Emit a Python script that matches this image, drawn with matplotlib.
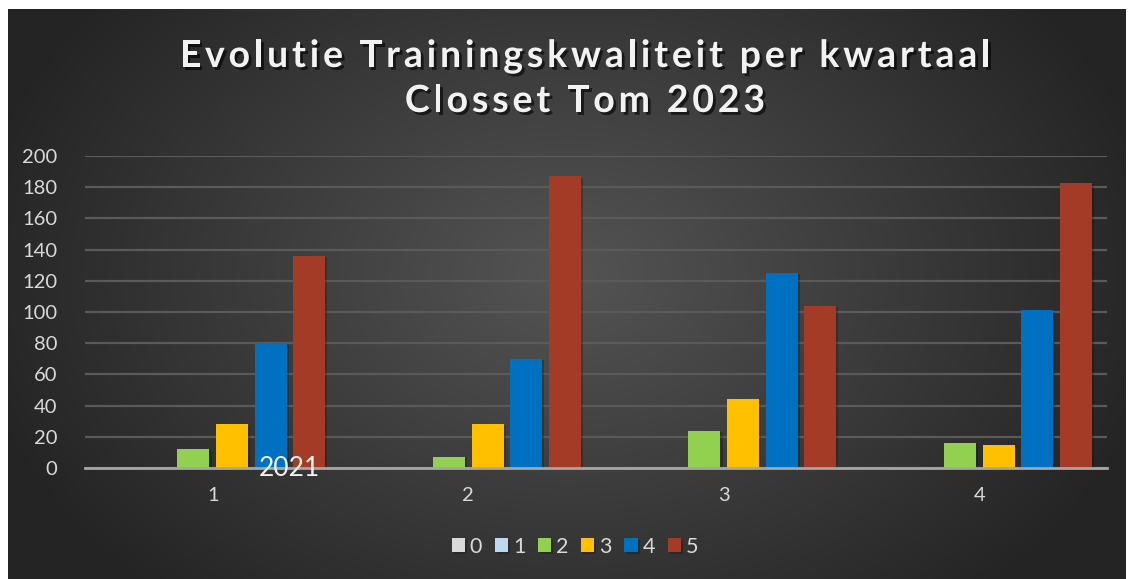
import numpy as np
import matplotlib.pyplot as plt
import matplotlib.patheffects as pe
from matplotlib import font_manager
from matplotlib.ft2font import FT2Font

categories = ["1", "2", "3", "4"]
series_names = ["0", "1", "2", "3", "4", "5"]
values = {
    "0": [0, 0, 0, 0],
    "1": [0, 0, 0, 0],
    "2": [12, 7, 24, 16],
    "3": [28, 28, 44, 15],
    "4": [80, 70, 125, 101],
    "5": [136, 187, 104, 183],
}
colors = ["#d9d9d9", "#bdd7ee", "#92d050", "#ffc000", "#0070c0", "#a33b26"]
title_lines = ["Evolutie Trainingskwaliteit per kwartaal", "Closset Tom 2023"]

W, H = 1129, 579
DPI = 100
fig = plt.figure(figsize=(W / DPI, H / DPI), dpi=DPI)
fig.patch.set_facecolor("white")

# dark radial background
bg = fig.add_axes([8 / W, 0, (1126 - 8) / W, (H - 9) / H])
bg.set_axis_off()
yy, xx = np.mgrid[0:300, 0:600]
cx, cy = 300, 140
r = np.sqrt(((xx - cx) / 330) ** 2 + ((yy - cy) / 230) ** 2)
shade = np.clip(0.33 - 0.19 * r, 0.145, 0.33)
bg.imshow(np.dstack([shade] * 3), aspect="auto", extent=[0, 1, 0, 1])

ax = fig.add_axes([85 / W, 1 - 468 / H, (1107 - 85) / W, (468 - 156) / H])
ax.patch.set_alpha(0)
x = np.arange(1, len(categories) + 1)
pitch = 0.151
width = 0.125
shadow = [pe.SimplePatchShadow(offset=(1.5, -1), alpha=0.22, shadow_rgbFace="black"), pe.Normal()]
for i, name in enumerate(series_names):
    pos = x + (i - 2.5) * pitch
    bars = ax.bar(pos, values[name], width=width, color=colors[i], label=name, zorder=3)
    for b in bars:
        b.set_path_effects(shadow)

ax.set_xlim(0.5, 4.5)
ax.set_ylim(0, 200)
ax.set_yticks(range(0, 201, 20))
ax.set_xticks(x)
ax.set_xticklabels(categories)
ax.grid(axis="y", color="#5a5a5a", linewidth=1.6, zorder=0)
for s in ["top", "right", "left"]:
    ax.spines[s].set_visible(False)
ax.spines["bottom"].set_color("#a6a6a6")
ax.spines["bottom"].set_linewidth(2)
ax.spines["bottom"].set_zorder(4)
ax.tick_params(length=0, colors="#d9d9d9", labelsize=14.5)
ax.tick_params(axis="y", pad=20)
ax.tick_params(axis="x", pad=14)
for lab in ax.get_xticklabels() + ax.get_yticklabels():
    lab.set_fontfamily("Lato")
    lab.set_color("#d9d9d9")

ax.text(1.30, 0, "2021", ha="center", va="center", fontsize=19, family="Lato",
        color="#f2f2f2", zorder=5)

# title with wide letter spacing
tprop = font_manager.FontProperties(family="Lato", weight="bold", size=27)
font = FT2Font(font_manager.findfont(tprop))
font.set_size(27, DPI)
tracking = 3.8  # extra pixels between characters
title_center = 585
title_shadow = [pe.withSimplePatchShadow(offset=(2, -2), alpha=0.6, shadow_rgbFace="black")]
for line, yc in zip(title_lines, [56, 101]):
    adv = [font.load_char(ord(c)).linearHoriAdvance / 65536 + tracking for c in line]
    total = sum(adv) - tracking
    xp = title_center - total / 2
    for c, a in zip(line, adv):
        if c != " ":
            fig.text(xp / W, 1 - yc / H, c, ha="left", va="center", fontproperties=tprop,
                     color="#f2f2f2", path_effects=title_shadow)
        xp += a

leg = fig.legend(loc="center", bbox_to_anchor=(575 / W, 1 - 547 / H), ncol=6, frameon=False,
                 handlelength=0.62, handleheight=0.62, handletextpad=0.23, columnspacing=0.58,
                 prop={"family": "Lato", "size": 15.5})
for t in leg.get_texts():
    t.set_color("#d9d9d9")

fig.savefig("out.png", dpi=DPI, facecolor=fig.get_facecolor())
